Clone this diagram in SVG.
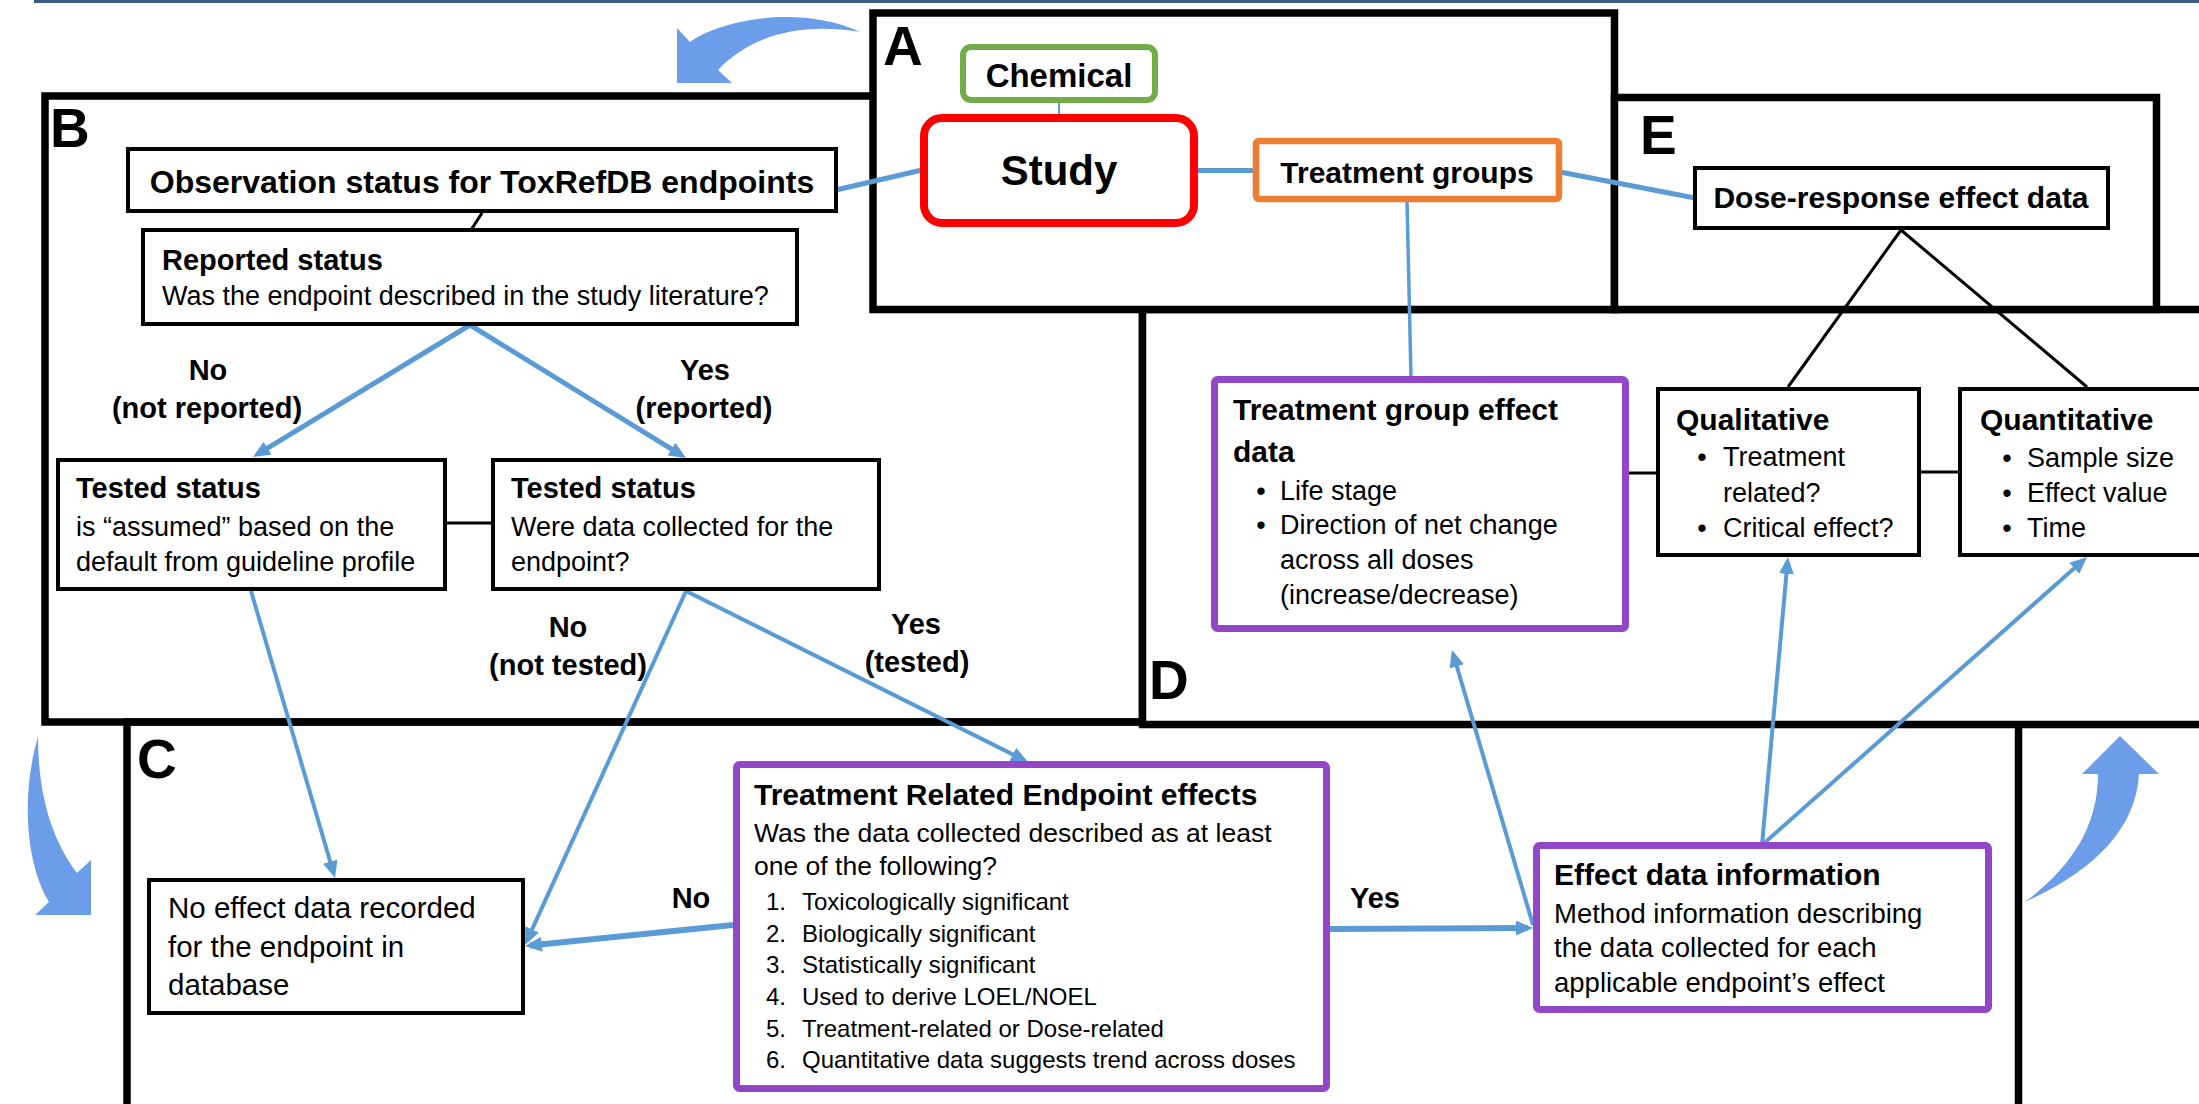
<svg xmlns="http://www.w3.org/2000/svg" width="2199" height="1104" viewBox="0 0 2199 1104">
<style>
text{font-family:"Liberation Sans",Arial,sans-serif;fill:#000}
.b{font-weight:bold}
.h{font-weight:bold;font-size:30px}
.t{font-size:27px}
.li{font-size:24px}
.lab{font-weight:bold;font-size:29px;text-anchor:middle}
.pl{font-weight:bold;font-size:55px}
.mid{text-anchor:middle}
.panel{fill:#fff;stroke:#000;stroke-width:7.5}
.box{fill:#fff;stroke:#000;stroke-width:4}
.pbox{fill:#fff;stroke:#9248c6;stroke-width:7}
.bl{stroke:#5b9bd5;fill:none}
.bk{stroke:#000;fill:none;stroke-width:3}
.curv{fill:#6b9de8}
</style>
<defs>
<marker id="ah" markerUnits="userSpaceOnUse" markerWidth="17" markerHeight="15" refX="12" refY="7.5" orient="auto">
<path d="M0,0 L17,7.5 L0,15 Z" fill="#5b9bd5"/>
</marker>
</defs>
<rect x="34" y="0" width="2165" height="3" fill="#3d5a80"/>
<g id="panels">
<rect id="panelB" class="panel" x="45" y="96" width="1097.5" height="626"/>
<rect id="panelC" class="panel" x="127" y="722" width="1891.5" height="500" style="fill:none"/>
<rect id="panelD" class="panel" x="1142.5" y="309.5" width="1100" height="415"/>
<rect id="panelA" class="panel" x="873" y="13" width="741.5" height="296.5"/>
<rect id="panelE" class="panel" x="1614.5" y="97.5" width="542" height="212"/>
<text class="pl" x="883" y="65">A</text>
<text class="pl" x="50" y="147">B</text>
<text class="pl" x="137" y="778">C</text>
<text class="pl" x="1149" y="699">D</text>
<text class="pl" x="1640" y="154">E</text>
</g>
<g id="curved-arrows">
<path class="curv" d="M677,28 L690,42 C720,20 800,4 860,32 C800,22 750,36 718,70 L732,83 L677,83 Z"/>
<path class="curv" d="M38,737 C22,790 24,860 49,902 L35,915 L91,915 L91,860 L77,873 C52,840 38,795 38,737 Z"/>
<path class="curv" d="M2120,736 L2159,774 L2139,774 C2136,830 2092,872 2025,902 C2070,868 2098,828 2098,774 L2082,774 Z"/>
</g>
<g id="connectors">
<line class="bl" stroke-width="5" x1="836" y1="190" x2="922" y2="170"/>
<line class="bl" stroke-width="5" x1="1196" y1="170.5" x2="1255" y2="170.5"/>
<line class="bl" stroke-width="5" x1="1560" y1="172" x2="1695" y2="198"/>
<line class="bl" stroke-width="3.5" x1="1407" y1="200" x2="1411" y2="378"/>
<line class="bl" stroke-width="2" x1="1059" y1="101" x2="1059" y2="116"/>
<line class="bl" stroke-width="5" x1="470" y1="325" x2="257.3" y2="454.4" marker-end="url(#ah)"/>
<line class="bl" stroke-width="5" x1="470" y1="325" x2="681.7" y2="455.4" marker-end="url(#ah)"/>
<line class="bl" stroke-width="4" x1="251" y1="591" x2="333.6" y2="873.2" marker-end="url(#ah)"/>
<line class="bl" stroke-width="4" x1="686" y1="591" x2="527.1" y2="940.4" marker-end="url(#ah)"/>
<line class="bl" stroke-width="4" x1="686" y1="591" x2="1023.5" y2="759.8" marker-end="url(#ah)"/>
<line class="bl" stroke-width="6" x1="733" y1="925" x2="530" y2="945.5" marker-end="url(#ah)"/>
<line class="bl" stroke-width="6" x1="1330" y1="929" x2="1528" y2="928" marker-end="url(#ah)"/>
<line class="bl" stroke-width="4" x1="1533" y1="925" x2="1453.4" y2="654.8" marker-end="url(#ah)"/>
<line class="bl" stroke-width="4" x1="1762" y1="845" x2="1787.5" y2="562" marker-end="url(#ah)"/>
<line class="bl" stroke-width="4" x1="1762" y1="845" x2="2083.3" y2="560.3" marker-end="url(#ah)"/>
<line class="bk" x1="482" y1="213" x2="471" y2="230"/>
<line class="bk" stroke-width="4" x1="447" y1="523" x2="491" y2="523"/>
<line class="bk" x1="1901" y1="230" x2="1788" y2="387"/>
<line class="bk" x1="1901" y1="230" x2="2087" y2="387"/>
<line class="bk" stroke-width="4" x1="1629" y1="473" x2="1656" y2="473"/>
<line class="bk" stroke-width="4" x1="1919" y1="472" x2="1958" y2="472"/>
</g>
<g id="chemical">
<rect x="963" y="47" width="192" height="53" rx="8" fill="#fff" stroke="#70ad47" stroke-width="6"/>
<text class="b mid" x="1059" y="87" font-size="33">Chemical</text>
</g>
<g id="study">
<rect x="924" y="118" width="270" height="105" rx="18" fill="#fff" stroke="#ff0000" stroke-width="8"/>
<text class="b mid" x="1059" y="185" font-size="42">Study</text>
</g>
<g id="treatment-groups">
<rect x="1256" y="141" width="303" height="58" rx="3" fill="#fff" stroke="#ed7d31" stroke-width="6.5"/>
<text class="h mid" x="1407" y="183">Treatment groups</text>
</g>
<g id="dose-response">
<rect class="box" x="1695" y="168" width="413" height="60" stroke-width="4.5"/>
<text class="h mid" x="1901" y="208">Dose-response effect data</text>
</g>
<g id="observation-status">
<rect class="box" x="128" y="149" width="708" height="62"/>
<text class="b mid" x="482" y="193" font-size="32">Observation status for ToxRefDB endpoints</text>
</g>
<g id="reported-status">
<rect class="box" x="143" y="230" width="654" height="94"/>
<text class="b" x="162" y="270" font-size="29">Reported status</text>
<text class="t" x="162" y="305">Was the endpoint described in the study literature?</text>
</g>
<g id="tested-status-assumed">
<rect class="box" x="58" y="460" width="387" height="129"/>
<text class="b" x="76" y="498" font-size="29">Tested status</text>
<text class="t" x="76" y="536" font-size="27.5">is “assumed” based on the</text>
<text class="t" x="76" y="571" font-size="27.5">default from guideline profile</text>
</g>
<g id="tested-status">
<rect class="box" x="493" y="460" width="386" height="129"/>
<text class="b" x="511" y="498" font-size="29">Tested status</text>
<text class="t" x="511" y="536" font-size="27.5">Were data collected for the</text>
<text class="t" x="511" y="571" font-size="27.5">endpoint?</text>
</g>
<g id="labels">
<text class="lab" x="208" y="380">No</text>
<text class="lab" x="207" y="418">(not reported)</text>
<text class="lab" x="705" y="380">Yes</text>
<text class="lab" x="704" y="418">(reported)</text>
<text class="lab" x="568" y="637">No</text>
<text class="lab" x="568" y="675">(not tested)</text>
<text class="lab" x="916" y="634">Yes</text>
<text class="lab" x="917" y="672">(tested)</text>
<text class="lab" x="691" y="908" font-size="30">No</text>
<text class="lab" x="1375" y="908" font-size="30">Yes</text>
</g>
<g id="no-effect">
<rect class="box" x="149" y="880" width="374" height="133"/>
<text x="168" y="918" font-size="29.5">No effect data recorded</text>
<text x="168" y="957" font-size="29.5">for the endpoint in</text>
<text x="168" y="995" font-size="29.5">database</text>
</g>
<g id="treatment-related">
<rect class="pbox" x="736.5" y="764.5" width="590" height="324" rx="3"/>
<text class="h" x="754" y="805">Treatment Related Endpoint effects</text>
<text x="754" y="842" font-size="26.5">Was the data collected described as at least</text>
<text x="754" y="875" font-size="26.5">one of the following?</text>
<text class="li" x="766" y="910">1.</text><text class="li" x="802" y="910">Toxicologically significant</text>
<text class="li" x="766" y="942">2.</text><text class="li" x="802" y="942">Biologically significant</text>
<text class="li" x="766" y="973">3.</text><text class="li" x="802" y="973">Statistically significant</text>
<text class="li" x="766" y="1005">4.</text><text class="li" x="802" y="1005">Used to derive LOEL/NOEL</text>
<text class="li" x="766" y="1037">5.</text><text class="li" x="802" y="1037">Treatment-related or Dose-related</text>
<text class="li" x="766" y="1068">6.</text><text class="li" x="802" y="1068">Quantitative data suggests trend across doses</text>
</g>
<g id="effect-data-information">
<rect class="pbox" x="1536.5" y="845.5" width="452" height="164" rx="3"/>
<text class="h" x="1554" y="885">Effect data information</text>
<text x="1554" y="923" font-size="27.5">Method information describing</text>
<text x="1554" y="957" font-size="27.5">the data collected for each</text>
<text x="1554" y="992" font-size="27.5">applicable endpoint’s effect</text>
</g>
<g id="treatment-group-effect-data">
<rect class="pbox" x="1214.5" y="379.5" width="411" height="249" rx="3"/>
<text class="h" x="1233" y="420" font-size="30.5">Treatment group effect</text>
<text class="h" x="1233" y="462" font-size="30.5">data</text>
<text class="t mid" x="1261" y="500">•</text><text class="t" x="1280" y="500">Life stage</text>
<text class="t mid" x="1261" y="534">•</text><text class="t" x="1280" y="534">Direction of net change</text>
<text class="t" x="1280" y="569">across all doses</text>
<text class="t" x="1280" y="604">(increase/decrease)</text>
</g>
<g id="qualitative">
<rect class="box" x="1658" y="389" width="261" height="166" stroke-width="4.5"/>
<text class="h" x="1676" y="430" font-size="30.5">Qualitative</text>
<text class="t mid" x="1702" y="466">•</text><text class="t" x="1723" y="466">Treatment</text>
<text class="t" x="1723" y="502">related?</text>
<text class="t mid" x="1702" y="537">•</text><text class="t" x="1723" y="537">Critical effect?</text>
</g>
<g id="quantitative">
<rect class="box" x="1960" y="389" width="260" height="166" stroke-width="4.5"/>
<text class="h" x="1980" y="430" font-size="30.5">Quantitative</text>
<text class="t mid" x="2007" y="467" font-size="25">•</text><text class="t" x="2027" y="467" font-size="25">Sample size</text>
<text class="t mid" x="2007" y="502" font-size="25">•</text><text class="t" x="2027" y="502" font-size="25">Effect value</text>
<text class="t mid" x="2007" y="537" font-size="25">•</text><text class="t" x="2027" y="537" font-size="25">Time</text>
</g>
</svg>
